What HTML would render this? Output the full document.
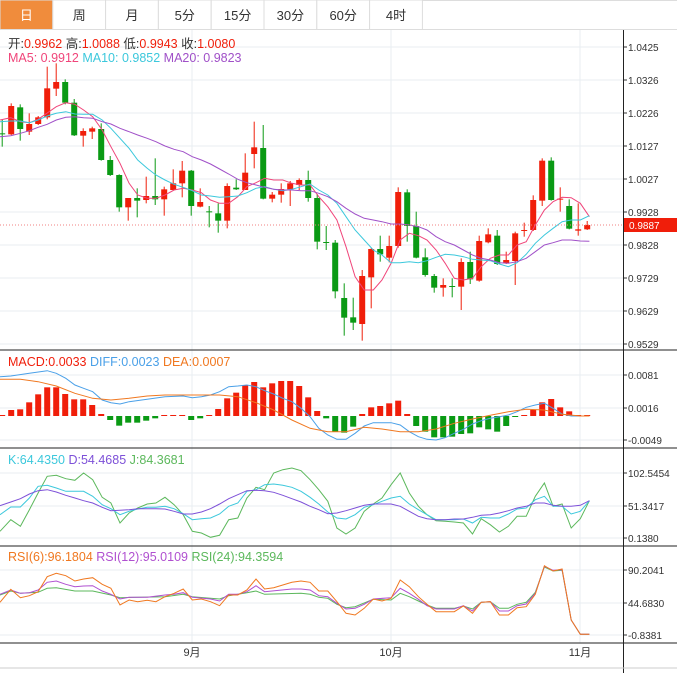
<!DOCTYPE html>
<html><head><meta charset="utf-8"><style>
body{margin:0;width:677px;height:673px;background:#fff;overflow:hidden;font-family:"Liberation Sans","Noto Sans CJK SC",sans-serif}
svg{position:absolute;left:0;top:0}
</style></head><body>
<svg id="s" width="677" height="673" xmlns="http://www.w3.org/2000/svg" font-family="Liberation Sans, Noto Sans CJK SC, sans-serif"></svg>
<script>
const S=document.getElementById('s');let h='';
const X=z=>z/2.309;
function poly(pts,top,col,w){h+=`<polyline fill="none" stroke="${col}" stroke-width="${w||1}" points="${pts.map(p=>X(p[0]).toFixed(1)+','+(top+p[1]/3).toFixed(1)).join(' ')}"/>`;}
// tabs
const tabs=['日','周','月','5分','15分','30分','60分','4时'];
h+=`<rect x="0" y="0" width="677" height="30" fill="#fff"/><line x1="0" y1="29.5" x2="677" y2="29.5" stroke="#ddd"/><line x1="0" y1="0.5" x2="677" y2="0.5" stroke="#ddd"/>`;
tabs.forEach((t,i)=>{let x=i*52.8;h+=`<rect x="${x}" y="0" width="52.8" height="29.5" fill="${i==0?'#f08c3c':'#fff'}" stroke="#ddd"/><text x="${x+26.4}" y="20" font-size="13" text-anchor="middle" fill="${i==0?'#fff':'#333'}">${t}</text>`;});
// grid
[192,391,580].forEach(x=>h+=`<line x1="${x}" y1="30" x2="${x}" y2="643" stroke="#e8eef2"/>`);
const pt=[['1.0425',47],['1.0326',80],['1.0226',113],['1.0127',146],['1.0027',179],['0.9928',212],['0.9828',245],['0.9729',278],['0.9629',311],['0.9529',344]];
const axs=[...pt,['0.0081',375],['0.0016',408],['-0.0049',440],['102.5454',473],['51.3417',506],['0.1380',538],['90.2041',570],['44.6830',603],['-0.8381',635]];
axs.forEach(a=>{h+=`<line x1="0" y1="${a[1]}" x2="623" y2="${a[1]}" stroke="#e8eef2"/><line x1="623" y1="${a[1]}" x2="627" y2="${a[1]}" stroke="#333"/><text x="628" y="${a[1]+4}" font-size="10" fill="#333">${a[0]}</text>`;});
[350,448,546,643].forEach(y=>h+=`<line x1="0" y1="${y}" x2="677" y2="${y}" stroke="#222"/>`);
h+=`<line x1="623.5" y1="30" x2="623.5" y2="673" stroke="#222"/><line x1="0" y1="668" x2="677" y2="668" stroke="#ccc"/>`;
// candles
const C=[[190,190,150,230,'g'],[108,193,100,195,'r'],[112,177,103,212,'g'],[162,185,130,195,'r'],[142,162,138,165,'r'],[55,142,-10,148,'r'],[36,56,-20,78,'r'],[36,98,28,103,'g'],[98,196,87,198,'g'],[183,197,175,230,'r'],[175,185,170,207,'r'],[177,270,160,272,'g'],[270,315,258,318,'g'],[315,412,313,425,'g'],[384,412,384,452,'r'],[384,392,355,442,'g'],[378,390,320,400,'r'],[378,388,265,405,'g'],[358,388,350,437,'r'],[340,360,298,360,'r'],[302,340,273,382,'r'],[302,408,300,437,'g'],[396,410,355,412,'r'],[424,426,408,472,'g'],[430,452,400,488,'g'],[348,452,340,475,'r'],[353,358,328,360,'g'],[308,360,250,360,'r'],[232,252,155,295,'r'],[234,386,165,388,'g'],[374,386,366,397,'r'],[357,374,340,398,'r'],[340,358,333,408,'r'],[330,345,325,360,'r'],[330,384,302,395,'g'],[384,515,372,538,'g'],[516,518,468,540,'g'],[518,664,510,685,'g'],[684,743,640,797,'g'],[742,758,683,780,'g'],[618,762,600,812,'r'],[537,622,535,715,'r'],[537,553,497,575,'g'],[528,563,497,577,'r'],[366,528,352,533,'r'],[367,468,358,515,'g'],[468,563,425,565,'g'],[562,615,535,620,'g'],[618,653,612,668,'g'],[645,653,625,680,'r'],[648,650,625,682,'g'],[576,650,565,720,'r'],[576,628,545,642,'g'],[513,632,497,635,'r'],[493,517,475,520,'r'],[497,582,480,585,'g'],[570,580,545,582,'r'],[490,573,485,645,'r'],[480,483,458,500,'r'],[390,480,376,483,'r'],[272,392,265,408,'r'],[272,390,262,392,'g'],[386,389,352,425,'r'],[408,476,388,478,'g'],[478,482,400,497,'r'],[465,478,453,480,'r']];
const cx=i=>2.2+i*9.0;
C.forEach((c,i)=>{let x=cx(i),col=c[4]=='r'?'#f01e0a':'#0a9a14';let t=70+c[0]/3,b=70+c[1]/3;h+=`<line x1="${x}" y1="${70+c[2]/3}" x2="${x}" y2="${70+c[3]/3}" stroke="${col}"/><rect x="${x-3}" y="${t}" width="6" height="${Math.max(1,b-t)}" fill="${col}"/>`;});
poly([[0,150],[25,143],[47,155],[68,158],[88,148],[130,110],[152,98],[173,103],[193,120],[214,140],[236,180],[256,230],[277,280],[298,340],[318,375],[340,385],[360,385],[381,375],[402,360],[423,355],[444,360],[465,368],[486,390],[507,400],[528,400],[549,380],[570,350],[591,338],[611,325],[632,330],[653,330],[674,340],[695,345],[716,345],[736,380],[757,410],[778,450],[799,530],[820,620],[841,660],[862,660],[882,630],[903,580],[924,510],[945,490],[966,497],[986,510],[1007,540],[1028,580],[1049,625],[1070,630],[1091,625],[1111,590],[1132,565],[1153,555],[1174,555],[1194,525],[1215,515],[1236,465],[1257,420],[1277,395],[1298,382],[1319,383],[1340,400],[1361,440]],70,'#f0457a');
poly([[0,155],[25,153],[47,153],[68,158],[88,150],[109,138],[130,130],[152,125],[173,132],[193,133],[214,133],[236,150],[256,175],[277,205],[298,235],[318,270],[340,295],[360,315],[381,330],[402,343],[423,352],[444,362],[465,375],[486,378],[507,382],[528,380],[549,378],[570,368],[591,355],[611,350],[632,358],[653,362],[674,358],[695,350],[716,342],[736,360],[757,375],[778,400],[799,440],[820,480],[841,510],[862,540],[882,555],[903,578],[924,578],[945,575],[966,578],[986,572],[1007,562],[1028,553],[1049,555],[1070,560],[1091,568],[1111,570],[1132,572],[1153,582],[1174,590],[1194,578],[1215,553],[1236,520],[1257,495],[1277,475],[1298,455],[1319,450],[1340,450],[1361,437]],70,'#3cc8dc');
poly([[0,200],[25,197],[47,190],[68,182],[88,172],[109,163],[130,150],[152,142],[173,140],[193,143],[214,145],[236,155],[256,162],[277,175],[298,185],[318,195],[340,205],[360,215],[381,228],[402,238],[423,245],[444,260],[465,270],[486,282],[507,297],[528,312],[549,328],[570,338],[591,345],[611,352],[632,358],[653,360],[674,360],[695,362],[716,362],[736,370],[757,380],[778,395],[799,415],[820,432],[841,445],[862,450],[882,455],[903,462],[924,462],[945,465],[966,470],[986,480],[1007,500],[1028,515],[1049,525],[1070,540],[1091,555],[1111,565],[1132,570],[1153,578],[1174,580],[1194,575],[1215,565],[1236,545],[1257,525],[1277,518],[1298,510],[1319,510],[1340,513],[1361,514]],70,'#a050c8');
h+=`<line x1="0" y1="225" x2="623" y2="225" stroke="#f08080" stroke-dasharray="1,2"/><rect x="624" y="218" width="53" height="14" fill="#f01e0a"/><text x="629" y="229" font-size="10" fill="#fff">0.9887</text>`;
// MACD
const M=[200,180,178,157,133,112,112,132,148,148,165,192,-210,-227,-218,-218,-212,-205,196,196,196,-210,-205,196,177,145,128,105,96,112,100,93,93,108,142,183,-205,-245,-248,-230,192,172,168,160,152,192,-228,-245,-262,-262,-260,-252,-250,-232,-238,-245,-228,-200,197,180,157,147,172,184,196,197];
M.forEach((v,i)=>{let x=cx(i),b=350+198/3;if(v<0){let y=350+(-v)/3;h+=`<rect x="${x-3}" y="${b}" width="6" height="${Math.max(1,y-b)}" fill="#0a9a14"/>`;}else{let y=350+v/3;h+=`<rect x="${x-3}" y="${Math.min(y,b-1)}" width="6" height="${Math.max(1,b-y)}" fill="#f01e0a"/>`;}});
poly([[0,80],[25,78],[68,70],[109,62],[130,70],[152,85],[173,105],[193,115],[214,125],[236,150],[256,158],[277,162],[298,155],[340,148],[381,140],[423,138],[444,143],[465,140],[486,135],[507,125],[528,110],[549,108],[570,105],[591,110],[611,122],[632,132],[653,145],[674,155],[695,175],[716,200],[736,235],[757,255],[778,268],[799,268],[820,250],[841,228],[862,218],[903,218],[924,225],[945,245],[966,260],[986,268],[1007,270],[1028,263],[1049,250],[1070,238],[1091,222],[1111,212],[1132,205],[1153,200],[1174,195],[1194,185],[1215,172],[1236,165],[1257,160],[1277,175],[1298,192],[1319,198],[1361,198]],350,'#4aa0e8');
poly([[0,88],[47,88],[88,95],[130,108],[173,130],[214,145],[256,150],[298,145],[340,138],[381,135],[423,135],[465,135],[507,135],[549,140],[591,158],[632,180],[674,210],[716,235],[757,245],[799,245],[841,232],[882,237],[924,245],[966,245],[1007,237],[1049,220],[1091,207],[1132,196],[1174,185],[1215,178],[1257,180],[1298,193],[1340,198],[1361,198]],350,'#f07820');
// KDJ
poly([[0,250],[25,215],[47,235],[68,185],[88,135],[109,85],[130,82],[152,92],[173,97],[193,75],[214,95],[236,148],[256,165],[277,225],[298,195],[318,180],[340,168],[360,165],[381,148],[402,170],[423,200],[444,250],[465,255],[486,268],[507,262],[528,215],[549,210],[570,150],[591,118],[611,125],[632,75],[653,65],[674,60],[695,68],[716,95],[736,125],[757,160],[778,240],[799,258],[820,240],[841,190],[862,168],[882,150],[903,110],[924,75],[945,135],[966,175],[986,200],[1007,218],[1028,220],[1049,222],[1070,225],[1091,258],[1111,212],[1132,230],[1153,252],[1174,235],[1194,205],[1215,205],[1236,145],[1257,105],[1277,175],[1298,168],[1319,240],[1340,212],[1361,158]],448,'#5cb85c');
poly([[0,200],[25,177],[47,177],[68,150],[88,115],[109,112],[130,120],[152,130],[173,130],[193,130],[214,145],[236,170],[256,182],[277,200],[298,190],[318,183],[340,178],[360,178],[381,175],[402,182],[423,197],[444,215],[465,212],[486,210],[507,198],[528,175],[549,165],[570,130],[591,125],[611,110],[632,108],[653,112],[674,118],[695,130],[716,148],[736,168],[757,192],[778,210],[799,213],[820,200],[841,178],[862,170],[882,160],[903,150],[924,145],[945,168],[966,185],[986,200],[1007,215],[1028,215],[1049,215],[1070,213],[1091,225],[1111,208],[1132,210],[1153,210],[1174,198],[1194,183],[1215,180],[1236,155],[1257,145],[1277,175],[1298,175],[1319,198],[1340,190],[1361,158]],448,'#3cc8dc');
poly([[0,173],[25,162],[47,152],[68,138],[88,128],[109,125],[130,132],[152,142],[173,150],[193,158],[214,165],[236,178],[256,188],[277,187],[298,185],[318,182],[340,182],[360,182],[381,183],[402,190],[423,198],[444,198],[465,192],[486,182],[507,168],[528,152],[549,140],[570,128],[591,127],[611,128],[632,133],[653,142],[674,152],[695,162],[716,175],[736,185],[757,197],[778,195],[799,188],[820,180],[841,172],[862,168],[882,168],[903,168],[924,175],[945,190],[966,205],[986,212],[1007,215],[1028,215],[1049,213],[1070,213],[1091,208],[1111,202],[1132,200],[1153,195],[1174,188],[1194,180],[1215,175],[1236,165],[1257,165],[1277,172],[1298,175],[1319,175],[1340,172],[1361,158]],448,'#7d50d8');
// RSI
poly([[0,150],[25,138],[47,145],[88,142],[109,130],[130,128],[173,138],[214,138],[256,150],[277,158],[381,155],[423,148],[444,155],[507,162],[528,152],[570,143],[591,138],[611,148],[695,145],[716,148],[736,157],[757,160],[778,178],[799,188],[820,185],[862,163],[903,165],[924,145],[945,155],[966,168],[986,180],[1007,190],[1049,190],[1070,183],[1091,192],[1111,172],[1132,170],[1153,190],[1174,190],[1194,178],[1215,172],[1236,142],[1257,66],[1277,78],[1298,76],[1319,225],[1340,268],[1361,268]],545,'#5cb85c');
poly([[0,148],[25,135],[47,145],[68,143],[88,135],[109,112],[130,108],[152,118],[173,125],[193,123],[214,122],[236,138],[256,148],[277,162],[298,157],[340,157],[381,150],[402,148],[423,143],[444,157],[486,162],[507,168],[528,148],[549,148],[570,140],[591,122],[611,140],[674,132],[695,132],[716,135],[736,152],[757,155],[778,175],[799,192],[820,190],[841,178],[862,162],[903,158],[924,130],[945,145],[966,163],[986,182],[1007,192],[1049,192],[1070,182],[1091,198],[1111,172],[1132,170],[1153,198],[1174,198],[1194,182],[1215,177],[1236,145],[1257,64],[1277,76],[1298,74],[1319,225],[1340,268],[1361,268]],545,'#b050d0');
poly([[0,172],[25,133],[47,158],[68,152],[88,140],[109,95],[130,85],[152,92],[173,108],[193,102],[214,98],[236,118],[256,130],[277,180],[298,165],[318,170],[340,166],[360,170],[381,155],[402,145],[423,132],[444,165],[465,162],[486,170],[507,182],[528,150],[549,150],[570,135],[591,102],[611,132],[632,128],[653,120],[674,112],[695,108],[716,112],[736,138],[757,138],[778,170],[799,205],[820,210],[841,190],[862,162],[882,168],[903,160],[924,105],[945,125],[966,155],[986,178],[1007,200],[1028,200],[1049,200],[1070,183],[1091,205],[1111,172],[1132,170],[1153,210],[1174,210],[1194,188],[1215,185],[1236,148],[1257,62],[1277,78],[1298,72],[1319,225],[1340,268],[1361,268]],545,'#f07820');
// dates
[['9月',192],['10月',391],['11月',580]].forEach(d=>h+=`<text x="${d[1]}" y="656" font-size="11" text-anchor="middle" fill="#333">${d[0]}</text>`);
// legends
const L=(y,items)=>{let x=8;let s=`<text x="8" y="${y}" font-size="12.5">`;items.forEach(it=>{s+=`<tspan fill="${it[1]}">${it[0]}</tspan>`;});h+=s+'</text>';};
L(48,[['开:','#333'],['0.9962  ','#f01e0a'],['高:','#333'],['1.0088  ','#f01e0a'],['低:','#333'],['0.9943  ','#f01e0a'],['收:','#333'],['1.0080','#f01e0a']]);
L(62,[['MA5: 0.9912  ','#f0457a'],['MA10: 0.9852  ','#3cc8dc'],['MA20: 0.9823','#a050c8']]);
L(366,[['MACD:0.0033  ','#f01e0a'],['DIFF:0.0023  ','#4aa0e8'],['DEA:0.0007','#f07820']]);
L(464,[['K:64.4350  ','#3cc8dc'],['D:54.4685  ','#7d50d8'],['J:84.3681','#5cb85c']]);
L(561,[['RSI(6):96.1804  ','#f07820'],['RSI(12):95.0109  ','#b050d0'],['RSI(24):94.3594','#5cb85c']]);
S.innerHTML=h;
</script>
</body></html>
